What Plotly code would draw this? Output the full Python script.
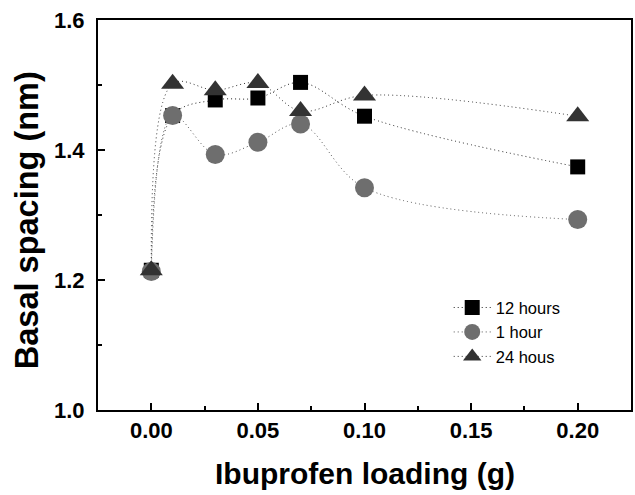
import plotly.graph_objects as go

loading = [0.0, 0.01, 0.03, 0.05, 0.07, 0.10, 0.20]
h12 = [1.215, 1.453, 1.477, 1.480, 1.504, 1.452, 1.374]
h1 = [1.213, 1.453, 1.393, 1.412, 1.440, 1.342, 1.293]
h24 = [1.215, 1.502, 1.492, 1.503, 1.460, 1.484, 1.452]
names = ["12 hours", "1 hour", "24 hous"]
x_ticks = [0, 0.05, 0.10, 0.15, 0.20]
x_ticktext = ["0.00", "0.05", "0.10", "0.15", "0.20"]
y_ticks = [1.0, 1.2, 1.4, 1.6]
y_ticktext = ["1.0", "1.2", "1.4", "1.6"]
x_title = "Ibuprofen loading (g)"
y_title = "Basal spacing (nm)"

FONT = "Liberation Sans, Arial, sans-serif"
LINE = dict(width=1, dash="1px,3px", shape="spline", smoothing=1.0)

fig = go.Figure()
fig.add_trace(go.Scatter(x=loading, y=h12, name=names[0], mode="lines+markers",
                         line=dict(color="#222222", **LINE),
                         marker=dict(symbol="square", size=15, color="#000000")))
fig.add_trace(go.Scatter(x=loading, y=h1, name=names[1], mode="lines+markers",
                         line=dict(color="#555555", **LINE),
                         marker=dict(symbol="circle", size=19, color="#6e6e6e")))
fig.add_trace(go.Scatter(x=loading, y=h24, name=names[2], mode="lines+markers",
                         line=dict(color="#333333", **LINE),
                         marker=dict(symbol="triangle-up", size=20, color="#333333")))

axis_common = dict(ticks="inside", ticklen=7, tickwidth=2, tickcolor="black",
                   showline=True, linecolor="black", linewidth=2, mirror=True,
                   showgrid=False, zeroline=False, automargin=False,
                   tickfont=dict(size=22, family=FONT, weight="bold", color="black"))

fig.update_layout(
    width=635, height=495,
    margin=dict(l=98, r=4, t=20, b=85),
    paper_bgcolor="white", plot_bgcolor="white",
    font=dict(family=FONT, color="black"),
    showlegend=True,
    legend=dict(x=0.658, y=0.307, xanchor="left", yanchor="top",
                font=dict(size=16.5, family=FONT), bgcolor="rgba(0,0,0,0)",
                tracegroupgap=0, itemwidth=37),
    xaxis=dict(range=[-0.025, 0.225], tickvals=x_ticks, ticktext=x_ticktext,
               minor=dict(tickvals=[0.025, 0.075, 0.125, 0.175], ticks="inside", ticklen=4, tickwidth=2, tickcolor="black"),
               **axis_common),
    yaxis=dict(range=[1.0, 1.6], tickvals=y_ticks, ticktext=y_ticktext,
               minor=dict(tickvals=[1.1, 1.3, 1.5], ticks="inside", ticklen=4, tickwidth=2, tickcolor="black"),
               ticklabelstandoff=7,
               **axis_common),
    annotations=[
        dict(text=x_title, xref="paper", yref="paper", x=0.5, y=-0.162,
             xanchor="center", yanchor="middle", showarrow=False,
             font=dict(size=30, family=FONT, weight="bold", color="black")),
        dict(text=y_title, xref="paper", yref="paper", x=-0.133, y=0.487,
             xanchor="center", yanchor="middle", showarrow=False, textangle=-90,
             font=dict(size=32.5, family=FONT, weight="bold", color="black")),
    ],
)

fig.write_html("out.html", config={"displayModeBar": False},
               post_script="document.body.style.margin='0';document.body.style.overflow='hidden';")
